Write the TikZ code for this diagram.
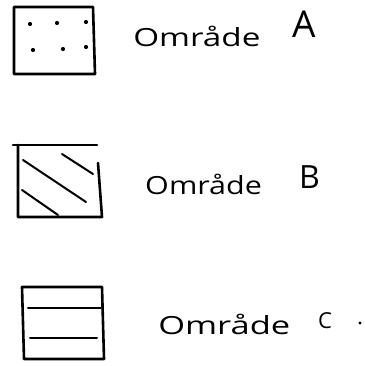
\documentclass[tikz,border=0pt]{standalone}
\usepackage{fontspec}
\setmainfont{Open Sans}
\begin{document}
\begin{tikzpicture}[x=1pt,y=-1pt,
  frame/.style={line width=2.6pt, line join=round, line cap=round},
  hatch/.style={line width=2pt, line cap=round},
  lbl/.style={inner sep=0pt, anchor=base west, font=\fontsize{25}{28}\selectfont},
  letter/.style={inner sep=0pt, anchor=base west},
  dotfill/.style={fill=black}]
\useasboundingbox (0,0) rectangle (364,366);
% Box A
\draw[frame] (14,7) -- (93,7) -- (95,74) -- (14,74) -- cycle;
\foreach \p/\q in {30/24,57/23,86/22,33/50,63/49,86/47}
  \fill[dotfill] (\p,\q) circle (2.1pt);
\node[lbl, xscale=1.33] (ta) at (133,47) {Område};
\node[letter, font=\fontsize{37}{40}\selectfont] (la) at (292,38) {A};
% Box B
\draw[frame] (13,145) -- (97,145);
\draw[frame] (18,145) -- (18,217) -- (102,217) -- (98,163);
\draw[hatch] (62,154) -- (93,174);
\draw[hatch] (23,160) -- (86,202);
\draw[hatch] (22,190) -- (58,215);
\node[lbl, xscale=1.22] (tb) at (145,194) {Område};
\node[letter, font=\fontsize{32}{35}\selectfont] (lb) at (299,188) {B};
% Box C
\draw[frame] (22,287) -- (102,287) -- (104,359) -- (24,359) -- cycle;
\draw[hatch] (28,308) -- (101,308);
\draw[hatch] (30,338) -- (97,338);
\node[lbl, xscale=1.38] (tc) at (158,334) {Område};
\node[letter, font=\fontsize{22}{25}\selectfont] (lc) at (318,328) {C};
\fill (360,323) circle (1.6pt);
\end{tikzpicture}
\end{document}
